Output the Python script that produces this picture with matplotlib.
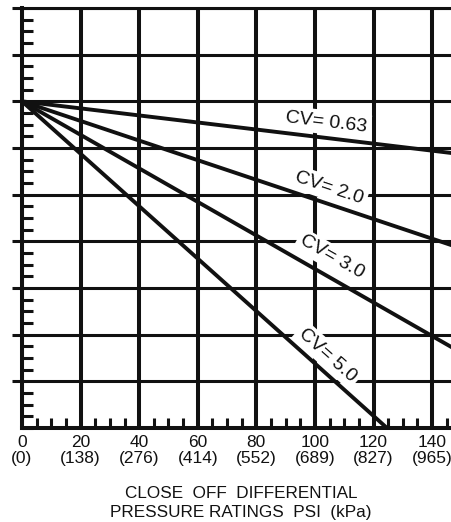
import numpy as np
import matplotlib.pyplot as plt
from matplotlib.ticker import MultipleLocator

# flow lines, all starting at the same point on the left axis
psi_ticks = [0, 20, 40, 60, 80, 100, 120, 140]
kpa_ticks = [0, 138, 276, 414, 552, 689, 827, 965]

cv_names = ["CV= 0.63", "CV= 2.0", "CV= 3.0", "CV= 5.0"]
cv_x = [[0, 147], [0, 147], [0, 147], [0, 124.6]]
cv_y = [[7, 5.89], [7, 3.91], [7, 1.72], [7, 0]]
# label anchor points (data units)
lbl_x = [104.0, 105.0, 105.8, 104.4]
lbl_y = [6.55, 5.14, 3.66, 1.56]

ink = "#111111"
plt.rcParams['font.family'] = ['Liberation Sans', 'DejaVu Sans']

fig = plt.figure(figsize=(4.52, 5.22), dpi=100)
ax = fig.add_axes([22/452, 94/522, 435/452, 420/522])

ax.set_xlim(0, 148.5)
ax.set_ylim(0, 9)

ax.set_xticks(psi_ticks)
ax.set_xticklabels([f"{p}\n({k})" for p, k in zip(psi_ticks, kpa_ticks)],
                   linespacing=1.05)
ax.xaxis.set_minor_locator(MultipleLocator(5))
ax.set_yticks(range(1, 10))
ax.set_yticklabels([])
ax.yaxis.set_minor_locator(MultipleLocator(0.25))

ax.tick_params(axis='x', which='major', length=0, pad=5, labelsize=12.5,
               colors=ink)
ax.tick_params(axis='x', which='minor', direction='in', length=7, width=2.2,
               color=ink)
ax.tick_params(axis='y', which='major', direction='out', length=7.5,
               width=2.2, color=ink)
ax.tick_params(axis='y', which='minor', direction='in', length=8, width=2.2,
               color=ink)

ax.xaxis.grid(True, which='major', color=ink, lw=2.9)
ax.yaxis.grid(True, which='major', color=ink, lw=2.2)
ax.set_axisbelow(True)

for s in ['left', 'bottom']:
    ax.spines[s].set_linewidth(2.9)
    ax.spines[s].set_color(ink)
ax.spines['top'].set_linewidth(2.2)
ax.spines['top'].set_color(ink)
ax.spines['right'].set_visible(False)

for name, xs, ys, tx, ty in zip(cv_names, cv_x, cv_y, lbl_x, lbl_y):
    ax.plot(xs, ys, color=ink, lw=2.8, solid_capstyle='butt', zorder=4)
    ang = np.degrees(np.arctan2(ys[1] - ys[0], xs[1] - xs[0]))
    ax.text(tx, ty, name, fontsize=14, color=ink, ha='center', va='center',
            rotation=ang, transform_rotates_text=True, rotation_mode='anchor',
            bbox=dict(facecolor='white', edgecolor='none', pad=2.5),
            zorder=5)

fig.text(241/452, 1 - 503/522,
         "CLOSE  OFF  DIFFERENTIAL\nPRESSURE RATINGS  PSI  (kPa)",
         ha='center', va='center', fontsize=12.3, color=ink, linespacing=1.3)

fig.savefig("out.png", dpi=100)
